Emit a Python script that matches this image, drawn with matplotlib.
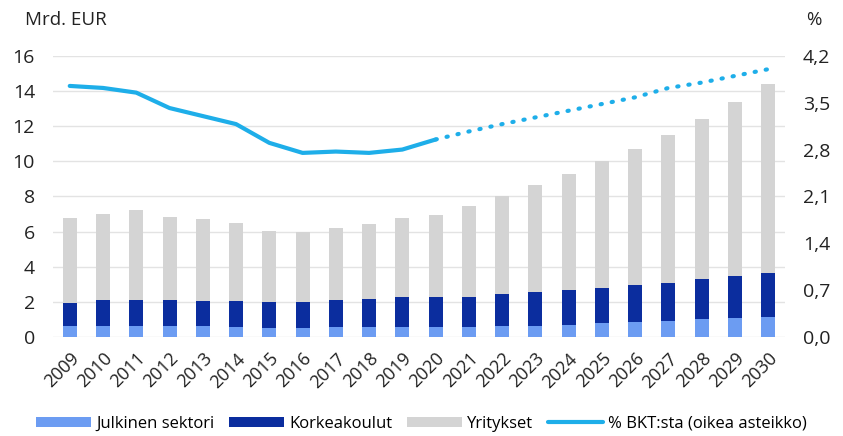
import matplotlib.pyplot as plt
import numpy as np

years = [str(y) for y in range(2009, 2031)]

# Mrd. EUR, stacked
julkinen = [0.65, 0.65, 0.65, 0.65, 0.65, 0.58, 0.52, 0.5, 0.55, 0.55, 0.57, 0.55,
            0.57, 0.6, 0.65, 0.7, 0.78, 0.85, 0.93, 1.0, 1.08, 1.15]
korkeakoulut_top = [1.95, 2.1, 2.1, 2.1, 2.05, 2.05, 2.0, 2.0, 2.1, 2.15, 2.25, 2.25,
                    2.3, 2.45, 2.55, 2.65, 2.8, 2.95, 3.1, 3.28, 3.45, 3.65]
total = [6.8, 7.0, 7.2, 6.85, 6.7, 6.5, 6.05, 5.95, 6.2, 6.45, 6.75, 6.95,
         7.45, 8.05, 8.65, 9.3, 10.0, 10.7, 11.5, 12.4, 13.35, 14.4]

# % of GDP (right axis)
bkt_actual = [3.75, 3.72, 3.65, 3.42, 3.30, 3.18, 2.90, 2.75, 2.77, 2.75, 2.80, 2.95]
bkt_forecast = [2.95, 3.07, 3.18, 3.28, 3.38, 3.48, 3.58, 3.72, 3.80, 3.90, 4.00]

korkeakoulut = np.array(korkeakoulut_top) - np.array(julkinen)
yritykset = np.array(total) - np.array(korkeakoulut_top)

plt.rcParams['font.family'] = ['Open Sans', 'DejaVu Sans']

fig = plt.figure(figsize=(8.43, 4.36), dpi=100)
ax = fig.add_axes([0.063, 0.227, 0.868, 0.645])
ax2 = ax.twinx()

x = np.arange(len(years))
w = 0.42
c_pub = '#6c9cf2'
c_uni = '#0b2d9e'
c_yri = '#d4d4d4'
c_line = '#1eaee9'

ax.bar(x, julkinen, w, color=c_pub, label='Julkinen sektori', zorder=2)
ax.bar(x, korkeakoulut, w, bottom=julkinen, color=c_uni, label='Korkeakoulut', zorder=2)
ax.bar(x, yritykset, w, bottom=korkeakoulut_top, color=c_yri, label='Yritykset', zorder=2)

ax2.plot(x[:12], bkt_actual, color=c_line, lw=3, solid_capstyle='round',
         label='% BKT:sta (oikea asteikko)')
ax2.plot(x[11:], bkt_forecast, color=c_line, lw=3, linestyle=(0, (0.3, 2.4)),
         dash_capstyle='round')

ax.set_xlim(-0.5, 21.5)
ax.set_ylim(0, 16)
ax.set_yticks(range(0, 17, 2))
ax2.set_ylim(0, 4.2)
ax2.set_yticks(np.arange(0, 4.21, 0.7))
ax2.set_yticklabels([f'{v:.1f}'.replace('.', ',') for v in np.arange(0, 4.21, 0.7)])

ax.grid(axis='y', color='#e3e3e3', lw=1, zorder=0)
ax.set_axisbelow(True)
for a in (ax, ax2):
    for s in a.spines.values():
        s.set_visible(False)
    a.tick_params(length=0, labelsize=14, colors='#222222')

ax.set_xticks(x)
ax.set_xticklabels(years, rotation=45, ha='right', rotation_mode='anchor', fontsize=13)
ax.tick_params(axis='x', pad=9)
ax.tick_params(axis='y', pad=13)
ax2.tick_params(axis='y', pad=13)

fig.text(0.03, 0.955, 'Mrd. EUR', fontsize=13.5, color='#222222', va='center')
fig.text(0.965, 0.955, '%', fontsize=13.5, color='#222222', va='center', ha='center')

h1, l1 = ax.get_legend_handles_labels()
h2, l2 = ax2.get_legend_handles_labels()
fig.legend(h1 + h2, l1 + l2, loc='center', bbox_to_anchor=(0.5, 0.028), ncol=4,
           frameon=False, fontsize=12, handlelength=3.3, handleheight=0.6,
           columnspacing=0.9, handletextpad=0.3)

fig.savefig('out.png', dpi=100)
